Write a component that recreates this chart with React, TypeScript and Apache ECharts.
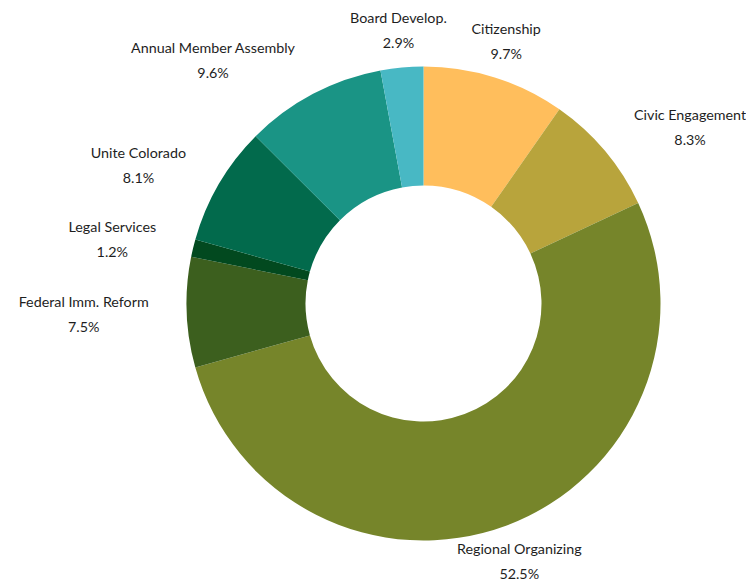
import React, { useEffect, useRef } from "react";
import * as echarts from "echarts";

const categories = [
  "Citizenship",
  "Civic Engagement",
  "Regional Organizing",
  "Federal Imm. Reform",
  "Legal Services",
  "Unite Colorado",
  "Annual Member Assembly",
  "Board Develop.",
];
const values = [9.7, 8.3, 52.5, 7.5, 1.2, 8.1, 9.6, 2.9];
const colors = [
  "#FFBE5C",
  "#B8A43C",
  "#76852A",
  "#3C5F1E",
  "#02491F",
  "#026A4C",
  "#1A9485",
  "#48B8C4",
];

const CX = 423.5;
const CY = 303.5;
const R_IN = 118;
const R_OUT = 237;
const R_LABEL = 275;

export default function App() {
  const ref = useRef<HTMLDivElement>(null);
  useEffect(() => {
    if (!ref.current) return;
    const chart = echarts.init(ref.current, null, { renderer: "svg" });
    const total = values.reduce((a, b) => a + b, 0);
    chart.setOption({
      animation: false,
      backgroundColor: "#ffffff",
      series: [
        {
          type: "pie",
          center: [CX, CY],
          radius: [R_IN, R_OUT],
          startAngle: 90,
          clockwise: true,
          avoidLabelOverlap: false,
          data: categories.map((name, i) => ({
            name,
            value: values[i],
            itemStyle: { color: colors[i] },
          })),
          label: {
            show: true,
            position: "outside",
            formatter: "{b}\n{c}%",
            fontFamily: "Lato",
            fontSize: 14.3,
            lineHeight: 25,
            color: "#1e1e1e",
            align: "center",
          },
          labelLine: { show: false },
          labelLayout: (params: any) => {
            const i = params.dataIndex;
            let before = 0;
            for (let k = 0; k < i; k++) before += values[k];
            const mid = ((before + values[i] / 2) / total) * Math.PI * 2;
            const s = Math.sin(mid);
            const c = Math.cos(mid);
            const px = CX + R_LABEL * s;
            const py = CY - R_LABEL * c;
            const w = params.labelRect.width;
            const fromVert = (Math.acos(Math.abs(c)) * 180) / Math.PI;
            let x = px;
            if (fromVert > 25) x = px + (s > 0 ? w / 2 : -w / 2);
            return { x, y: py, align: "center", verticalAlign: "middle" };
          },
        },
      ],
    });
    return () => chart.dispose();
  }, []);
  return (
    <div
      ref={ref}
      style={{ position: "fixed", left: 0, top: 0, width: 746, height: 582 }}
    />
  );
}
